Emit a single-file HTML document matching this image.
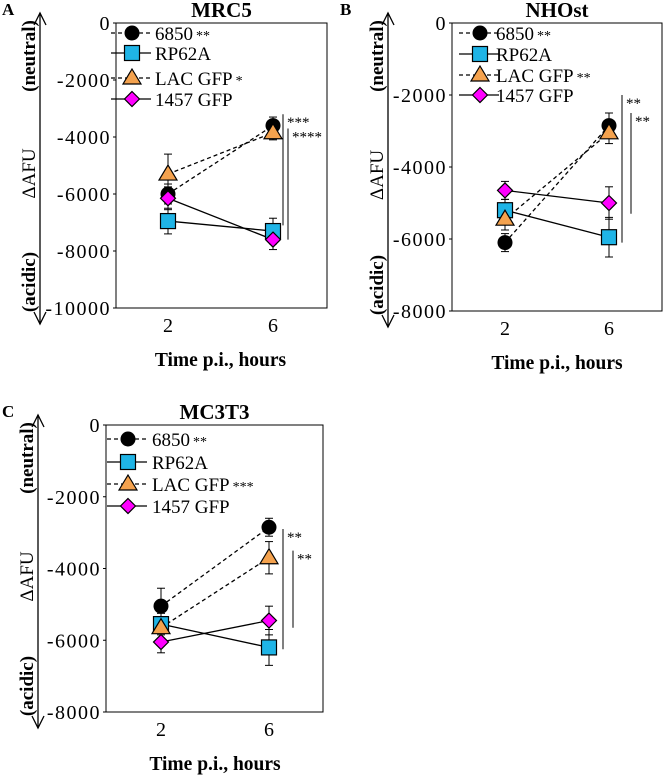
<!DOCTYPE html>
<html><head><meta charset="utf-8"><style>
body{margin:0;background:#fff;}
svg{display:block;font-family:"Liberation Serif",serif;}
</style></head><body>
<svg id="fig" width="666" height="776" viewBox="0 0 666 776"></svg>
<script>
const xCats=[2,6];
const seriesNames=["6850","RP62A","LAC GFP","1457 GFP"];
// Panel A (MRC5)
const aMean=[[-6000,-3600],[-6950,-7300],[-5300,-3850],[-6150,-7600]];
const aErr=[[350,300],[450,450],[700,250],[400,350]];
const aTicks=[0,-2000,-4000,-6000,-8000,-10000];
// Panel B (NHOst)
const bMean=[[-6100,-2850],[-5200,-5950],[-5450,-3050],[-4650,-5000]];
const bErr=[[250,350],[300,550],[300,300],[250,450]];
const bTicks=[0,-2000,-4000,-6000,-8000];
// Panel C (MC3T3)
const cMean=[[-5050,-2850],[-5550,-6200],[-5650,-3700],[-6050,-5450]];
const cErr=[[500,250],[300,500],[300,450],[300,400]];
const cTicks=[0,-2000,-4000,-6000,-8000];
const aStars=["**","","*",""],bStars=["**","","**",""],cStars=["**","","***",""];

const NS="http://www.w3.org/2000/svg";
const svg=document.getElementById("fig");
function mk(tag,at,parent,txt){const e=document.createElementNS(NS,tag);for(const k in at)e.setAttribute(k,at[k]);if(txt!==undefined)e.textContent=txt;(parent||svg).appendChild(e);return e;}
const styles=[{dash:"4,3",m:"circle",fill:"#000"},{dash:"",m:"square",fill:"#1fb4e6"},{dash:"4,3",m:"tri",fill:"#f4a24e"},{dash:"",m:"diamond",fill:"#ff00ff"}];
function marker(g,t,x,y,fill){
  let e;
  if(t==="circle")e=mk("circle",{cx:x,cy:y,r:7.5,fill:fill},g);
  else if(t==="square")e=mk("rect",{x:x-7.5,y:y-7.5,width:15,height:15,fill:fill,stroke:"#000","stroke-width":1.2},g);
  else if(t==="tri")e=mk("polygon",{points:`${x},${y-9} ${x+9},${y+6} ${x-9},${y+6}`,fill:fill,stroke:"#000","stroke-width":1.2},g);
  else e=mk("polygon",{points:`${x},${y-7.5} ${x+7.5},${y} ${x},${y+7.5} ${x-7.5},${y}`,fill:fill,stroke:"#000","stroke-width":1.2},g);
  
  
}
function panel(c){
  const g=mk("g",{},svg);
  
  
  const ymin=c.ticks[c.ticks.length-1];
  const y=v=>c.top+(v/ymin)*(c.bottom-c.top);
  const x=v=>c.x2+(v-2)/(6-2)*(c.x6-c.x2);
  const box=mk("rect",{x:c.left,y:c.top,width:c.right-c.left,height:c.bottom-c.top,fill:"none",stroke:"#000","stroke-width":1},g);
  
  const t=mk("text",{x:(c.left+c.right)/2,y:c.top-6,"text-anchor":"middle","font-size":21,"font-weight":"bold"},g,c.title);
  
  const l=mk("text",{x:c.lx,y:c.top-8,"font-size":17,"font-weight":"bold"},g,c.letter);
  
  c.ticks.forEach(v=>{
    const tk=mk("text",{x:c.left-5,y:y(v)+7,"text-anchor":"end","font-size":20,"letter-spacing":"1.5"},g,String(v));
    
    mk("line",{x1:c.left-3,x2:c.left,y1:y(v),y2:y(v),stroke:"#000"},g);
  });
  xCats.forEach(v=>{
    const tk=mk("text",{x:x(v),y:c.bottom+24,"text-anchor":"middle","font-size":20},g,String(v));
    
  });
  const xt=mk("text",{x:(c.x2+c.x6)/2,y:c.bottom+58,"text-anchor":"middle","font-size":19.5,"font-weight":"bold"},g,"Time p.i., hours");
  
  // arrow axis
  const ax=c.ax,a1=c.top-10,a2=c.bottom+16;
  mk("line",{x1:ax,x2:ax,y1:a1,y2:a2,stroke:"#000","stroke-width":1.3},g);
  mk("polyline",{points:`${ax-6},${a1+12} ${ax},${a1} ${ax+6},${a1+12}`,fill:"none",stroke:"#000","stroke-width":1.3},g);
  mk("polyline",{points:`${ax-6},${a2-12} ${ax},${a2} ${ax+6},${a2-12}`,fill:"none",stroke:"#000","stroke-width":1.3},g);
  const rx=ax-5;
  [["(neutral)",c.top+33,"neutral-label"],["ΔAFU",(c.top+c.bottom)/2+8,"y-axis-title"],["(acidic)",c.bottom-26,"acidic-label"]].forEach(([s,cy,n])=>{
    const e=mk("text",{x:rx,y:cy,"text-anchor":"middle","font-size":19,transform:`rotate(-90 ${rx} ${cy})`,"font-weight":n==="y-axis-title"?"normal":"bold"},g,s);
    
  });
  // series
  c.mean.forEach((s,i)=>{
    const st=styles[i];
    const sg=mk("g",{},g);
    
    
    s.forEach((v,j)=>{
      const e=c.err[i][j],xx=x(xCats[j]);
      mk("line",{x1:xx,x2:xx,y1:y(v-e),y2:y(v+e),stroke:"#000"},sg);
      mk("line",{x1:xx-4,x2:xx+4,y1:y(v-e),y2:y(v-e),stroke:"#000"},sg);
      mk("line",{x1:xx-4,x2:xx+4,y1:y(v+e),y2:y(v+e),stroke:"#000"},sg);
    });
    const ln=mk("line",{x1:x(xCats[0]),y1:y(s[0]),x2:x(xCats[1]),y2:y(s[1]),stroke:"#000","stroke-width":1.3,"stroke-dasharray":st.dash},sg);
    
  });
  c.mean.forEach((s,i)=>s.forEach((v,j)=>marker(g,styles[i].m,x(xCats[j]),y(v),styles[i].fill)));
  // legend
  seriesNames.forEach((n,i)=>{
    const lg=mk("g",{},g);
    
    
    const ly=c.legY[i];
    mk("line",{x1:c.legM-21,x2:c.legM+19,y1:ly,y2:ly,stroke:"#000","stroke-width":1.3,"stroke-dasharray":styles[i].dash},lg);
    marker(lg,styles[i].m,c.legM,ly,styles[i].fill);
    const tx=mk("text",{x:c.legT,y:ly+7,"font-size":19},lg,n);
    if(c.stars[i]){mk("tspan",{"font-size":14,dx:3},tx,c.stars[i]);}
  });
  // significance bars
  c.sig.forEach(sb=>{
    const e=mk("line",{x1:sb[0],x2:sb[0],y1:y(sb[1]),y2:y(sb[2]),stroke:"#000"},g);
    
    mk("text",{x:sb[0]+4,y:y(sb[1])+13,"font-size":15},g,sb[3]);
  });
}
panel({letter:"A",title:"MRC5",lx:2,left:116,right:327,top:23,bottom:308,x2:168,x6:273,ax:40,ticks:aTicks,mean:aMean,err:aErr,stars:aStars,legY:[33,53,78,99],legM:132,legT:155,sig:[[283,-3200,-7100,"***"],[288,-3700,-7600,"****"]]});
panel({letter:"B",title:"NHOst",lx:340,left:452,right:662,top:23,bottom:311,x2:505,x6:609,ax:388,ticks:bTicks,mean:bMean,err:bErr,stars:bStars,legY:[33,54,75,95],legM:480,legT:496,sig:[[622,-2000,-6100,"**"],[631,-2500,-5300,"**"]]});
panel({letter:"C",title:"MC3T3",lx:2,left:106,right:323,top:425,bottom:712,x2:161,x6:269,ax:38,ticks:cTicks,mean:cMean,err:cErr,stars:cStars,legY:[439,462,484,506],legM:128,legT:152,sig:[[283,-2900,-6250,"**"],[293,-3500,-5650,"**"]]});
</script>
</body></html>
